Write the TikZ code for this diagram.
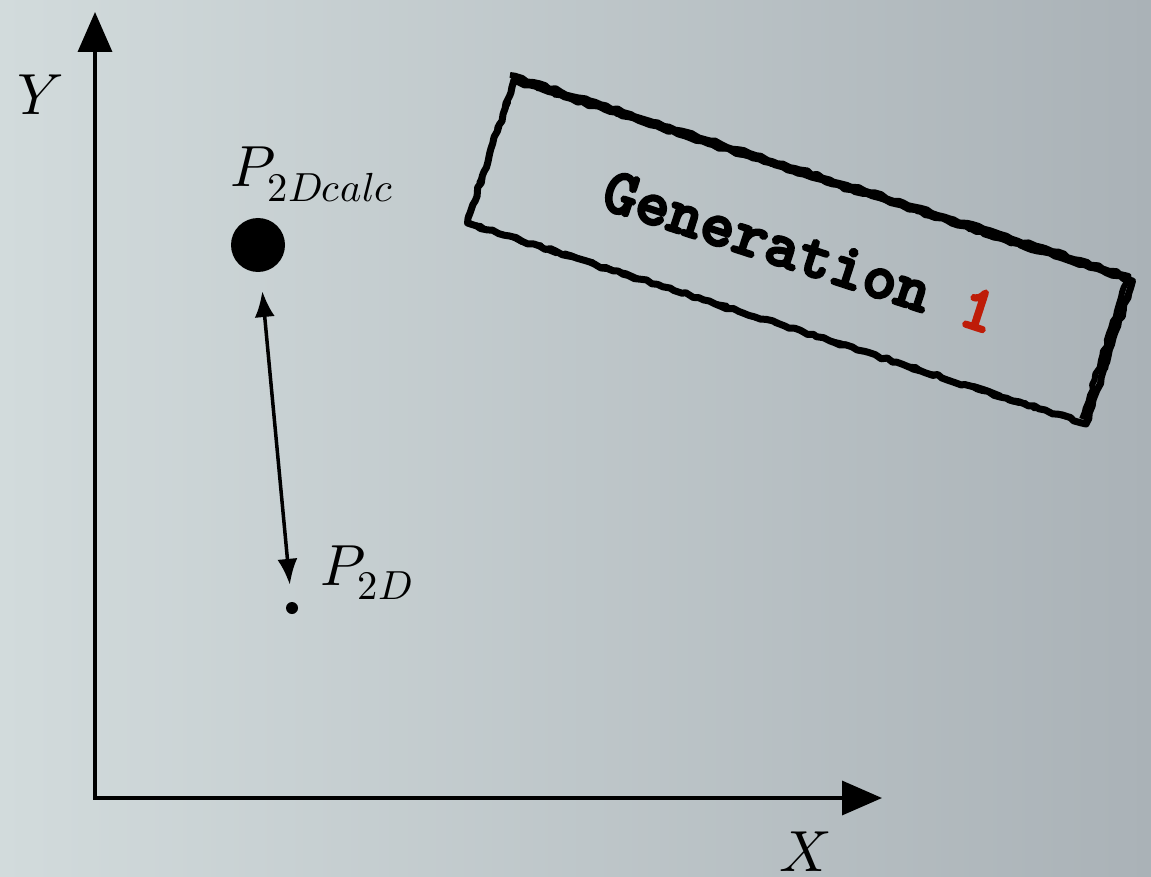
\documentclass[tikz,border=0pt]{standalone}
\usepackage{fontspec}
\usepackage{unicode-math}
\setmathfont{Latin Modern Math}
\newfontfamily\stampfont{lmmonolt10-bold.otf}[FakeBold=3.5]
\usetikzlibrary{positioning,arrows.meta,decorations.pathmorphing}
\definecolor{bgleft}{RGB}{210,219,220}
\definecolor{bgright}{RGB}{170,178,183}
\definecolor{stampred}{RGB}{190,28,8}

\begin{document}
\begin{tikzpicture}[
          x=1pt, y=-1pt,
          axis/.style={line width=3.5pt, {Triangle[length=40pt,width=34pt]}-{Triangle[length=40pt,width=34pt]}},
          dot/.style={circle, fill=black, inner sep=0pt},
          lab/.style={font=\fontsize{58}{60}\selectfont, inner sep=0pt},
          dist/.style={line width=3.5pt, {Latex[length=26pt,width=20pt]}-{Latex[length=26pt,width=20pt]}},
          stamp/.style={rotate=-18, minimum width=650pt, minimum height=150pt, font=\stampfont\fontsize{65}{66}\selectfont},
          rough/.style={line width=#1, line join=round, decorate, decoration={random steps, segment length=6pt, amplitude=1.5pt}}
      ]
        \shade[left color=bgleft, right color=bgright] (0,0) rectangle (1151,877);
        \useasboundingbox (0,0) rectangle (1151,877);
        % axes
        \coordinate (ytip) at (95,12);
        \coordinate (o) at (95,798);
        \coordinate (xtip) at (882,798);
        \draw[axis] (ytip) -- (o) -- (xtip);
        \node[lab] (ylab) at (40,95) {$Y$};
        \node[lab] (xlab) at (805,852) {$X$};
        % points
        \node[dot, minimum size=54pt] (calc) at (258,245) {};
        \node[dot, minimum size=12pt] (pt) at (292,608) {};
        \node[lab, above=16pt of calc, xshift=54pt] (calclab) {$P_{2Dcalc}$};
        \node[lab, above right=4pt and 24pt of pt] (ptlab) {$P_{2D}$};
        \draw[dist, shorten <=19pt, shorten >=17pt] (calc) -- (pt);
        % stamp
        \node[stamp] (gen) at (800,252) {Generation \textcolor{stampred}{1}\hspace{16pt}};
        \draw[rough=7pt] (gen.north west) -- (gen.north east) -- (gen.south east) -- (gen.south west) -- cycle;
        \draw[rough=3pt, decoration={random steps, segment length=9pt, amplitude=3pt}] (gen.north west) -- (gen.north east) -- (gen.south east) -- (gen.south west) -- cycle;
        \draw[rough=6pt] ([shift={(-4pt,5pt)}]gen.north west) -- ([shift={(-4pt,5pt)}]gen.north east) -- ([shift={(-4pt,5pt)}]gen.south east);
      \end{tikzpicture}
\end{document}
